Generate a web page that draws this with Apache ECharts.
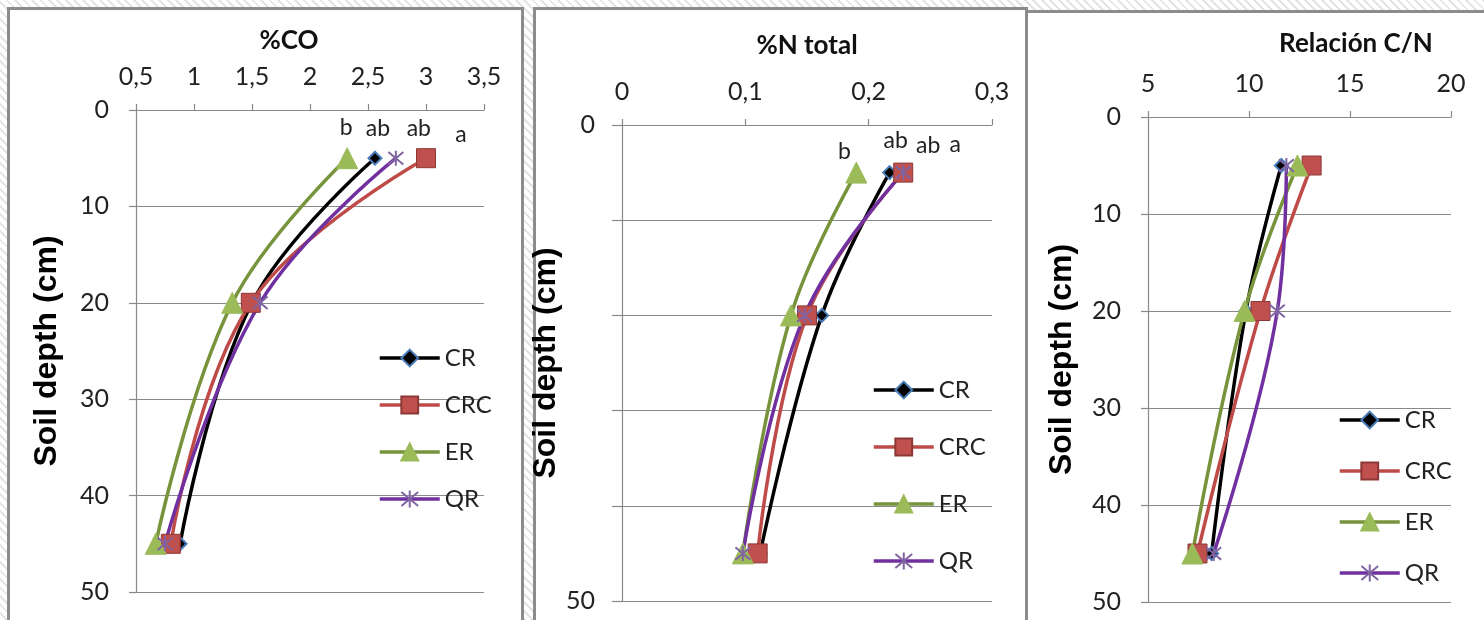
<!DOCTYPE html>
<html>
<head>
<meta charset="utf-8">
<script src="https://cdn.jsdelivr.net/npm/echarts@6/dist/echarts.min.js"></script>
<style>
  html, body { margin: 0; padding: 0; }
  body {
    width: 1484px; height: 620px; position: relative; overflow: hidden;
    background: repeating-linear-gradient(45deg, #ffffff 0px, #ffffff 4px, #e4e4e4 4px, #e4e4e4 6px);
  }
  .frame { position: absolute; box-sizing: border-box; background: #fff; border: 3px solid #8c8c8c; }
  #chart { position: absolute; left: 0; top: 0; width: 1484px; height: 620px; }
</style>
</head>
<body>
<div class="frame" style="left:7px; top:7px; width:517px; height:640px;"></div>
<div class="frame" style="left:533px; top:7px; width:495px; height:640px;"></div>
<div class="frame" style="left:1025px; top:10px; width:480px; height:640px;"></div>
<div id="chart"></div>
<script>
// ---------------- data ----------------
const seriesNames = ['CR', 'CRC', 'ER', 'QR'];
const depths = [5, 20, 45];

// %CO
const co_CR  = [2.56, 1.50, 0.88];
const co_CRC = [3.00, 1.49, 0.80];
const co_ER  = [2.32, 1.33, 0.67];
const co_QR  = [2.74, 1.57, 0.75];

// %N total
const n_CR  = [0.217, 0.162, 0.112];
const n_CRC = [0.228, 0.150, 0.110];
const n_ER  = [0.190, 0.137, 0.098];
const n_QR  = [0.228, 0.148, 0.098];

// Relación C/N
const cn_CR  = [11.6, 9.85, 8.15];
const cn_CRC = [13.1, 10.57, 7.45];
const cn_ER  = [12.4, 9.78, 7.2];
const cn_QR  = [11.85, 11.4, 8.25];

// significance letters (per series CR, CRC, ER, QR) at the surface depth
const letters_co = ['ab', 'a', 'b', 'ab'];
const letters_n  = ['ab', 'a', 'b', 'ab'];
const letters_cn = ['', '', '', ''];

// tick labels
const xTicks_co = ['0,5', '1', '1,5', '2', '2,5', '3', '3,5'];
const xTicks_n  = ['0', '0,1', '0,2', '0,3'];
const xTicks_cn = ['5', '10', '15', '20'];
const yTicks_co = ['0', '10', '20', '30', '40', '50'];
const yTicks_n  = ['0', '', '', '', '', '50'];
const yTicks_cn = ['0', '10', '20', '30', '40', '50'];

const titles = ['%CO', '%N total', 'Relación C/N'];
const yName = 'Soil depth (cm)';

// ---------------- styling ----------------
const AX = '#898989';
const TXT = '#222';
const FONT = 'Lato, "Open Sans", sans-serif';
const starPath = 'path://M0,0L10,10M10,0L0,10M5,-1L5,11';
const styles = {
  CR:  { line: '#000000', symbol: 'diamond', size: 13, fill: '#000000', border: '#4a7ebb', bw: 2 },
  CRC: { line: '#be4b48', symbol: 'rect', size: 19, fill: '#c0504d', border: '#8c3836', bw: 1 },
  ER:  { line: '#77933c', symbol: 'triangle', size: 21, fill: '#9bbb59', border: '#9bbb59', bw: 1 },
  QR:  { line: '#7030a0', symbol: starPath, size: 15, fill: 'rgba(0,0,0,0)', border: '#8064a2', bw: 2 }
};

const panels = [
  { grid: { left: 136, top: 110, width: 348, height: 482 }, x: { min: 0.5, max: 3.5, interval: 0.5 },
    xt: xTicks_co, yt: yTicks_co, data: [co_CR, co_CRC, co_ER, co_QR], letters: letters_co,
    nameGap: 73, yTick: 7,
    offsets: { CR: [3, -30], CRC: [35, -24], ER: [-1, -31], QR: [23, -30] },
    title: { x: 289, y: 28 }, legend: { left: 378, top: 348, gap: 23 } },
  { grid: { left: 622, top: 125, width: 370, height: 476 }, x: { min: 0, max: 0.3, interval: 0.1 },
    xt: xTicks_n, yt: yTicks_n, data: [n_CR, n_CRC, n_ER, n_QR], letters: letters_n,
    nameGap: 31, yTick: 10,
    offsets: { CR: [6, -32], CRC: [52, -28], ER: [-12, -21], QR: [25, -27] },
    title: { x: 807, y: 33 }, legend: { left: 872, top: 380, gap: 33 } },
  { grid: { left: 1148, top: 117, width: 303, height: 485 }, x: { min: 5, max: 20, interval: 5 },
    xt: xTicks_cn, yt: yTicks_cn, data: [cn_CR, cn_CRC, cn_ER, cn_QR], letters: letters_cn,
    nameGap: 70, yTick: 7,
    offsets: { CR: [0, -30], CRC: [0, -30], ER: [0, -30], QR: [0, -30] },
    title: { x: 1356, y: 31 }, legend: { left: 1338, top: 410, gap: 27 } }
];

const option = {
  animation: false,
  backgroundColor: 'transparent',
  title: [], grid: [], xAxis: [], yAxis: [], legend: [], series: []
};

panels.forEach((p, pi) => {
  option.title.push({
    text: titles[pi], left: p.title.x, top: p.title.y, textAlign: 'center', padding: 0,
    textStyle: { fontFamily: FONT, fontWeight: 'bold', fontSize: 26, color: '#111' }
  });
  option.grid.push(Object.assign({ containLabel: false, outerBoundsMode: 'none' }, p.grid));
  option.xAxis.push({
    type: 'value', gridIndex: pi, position: 'top',
    min: p.x.min, max: p.x.max, interval: p.x.interval,
    axisLine: { show: true, onZero: false, lineStyle: { color: AX, width: 1.2 } },
    axisTick: { show: true, inside: false, length: 6, lineStyle: { color: AX, width: 1.2 } },
    splitLine: { show: false },
    axisLabel: { margin: 21, fontFamily: FONT, fontSize: 25, color: TXT,
      formatter: (v, i) => p.xt[i] }
  });
  option.yAxis.push({
    type: 'value', gridIndex: pi, inverse: true, min: 0, max: 50, interval: 10,
    name: yName, nameLocation: 'middle', nameRotate: 90, nameGap: p.nameGap,
    nameTextStyle: { fontFamily: '"Liberation Sans", Arial, sans-serif', fontWeight: 'bold', fontSize: 32, color: '#000' },
    axisLine: { show: true, onZero: false, lineStyle: { color: AX, width: 1.2 } },
    axisTick: { show: true, inside: false, length: p.yTick, lineStyle: { color: AX, width: 1.2 } },
    splitLine: { show: true, lineStyle: { color: AX, width: 1.2 } },
    axisLabel: { margin: 27, fontFamily: FONT, fontSize: 25, color: TXT,
      formatter: (v, i) => p.yt[i] }
  });
  option.legend.push({
    orient: 'vertical', left: p.legend.left, top: p.legend.top - 2, itemGap: p.legend.gap,
    padding: 0,
    itemWidth: 60, itemHeight: 21,
    data: seriesNames,
    lineStyle: { width: 3.5 },
    textStyle: { fontFamily: FONT, fontSize: 24, color: TXT, lineHeight: 24 },
    selectedMode: false
  });
  seriesNames.forEach((name, si) => {
    const st = styles[name];
    const vals = p.data[si];
    const off = p.offsets[name];
    option.series.push({
      type: 'line', name: name, xAxisIndex: pi, yAxisIndex: pi,
      data: vals.map((v, k) => [v, depths[k]]),
      smooth: 0.4,
      symbol: st.symbol, symbolSize: st.size,
      showAllSymbol: true,
      lineStyle: { color: st.line, width: 3.5 },
      itemStyle: { color: st.fill, borderColor: st.border, borderWidth: st.bw },
      label: {
        show: true, position: 'inside', offset: off,
        fontFamily: FONT, fontSize: 23, color: TXT,
        formatter: (prm) => prm.dataIndex === 0 ? p.letters[si] : ''
      },
      emphasis: { disabled: true }
    });
  });
});

const chart = echarts.init(document.getElementById('chart'), null, { renderer: 'canvas' });
chart.setOption(option);
</script>
</body>
</html>
